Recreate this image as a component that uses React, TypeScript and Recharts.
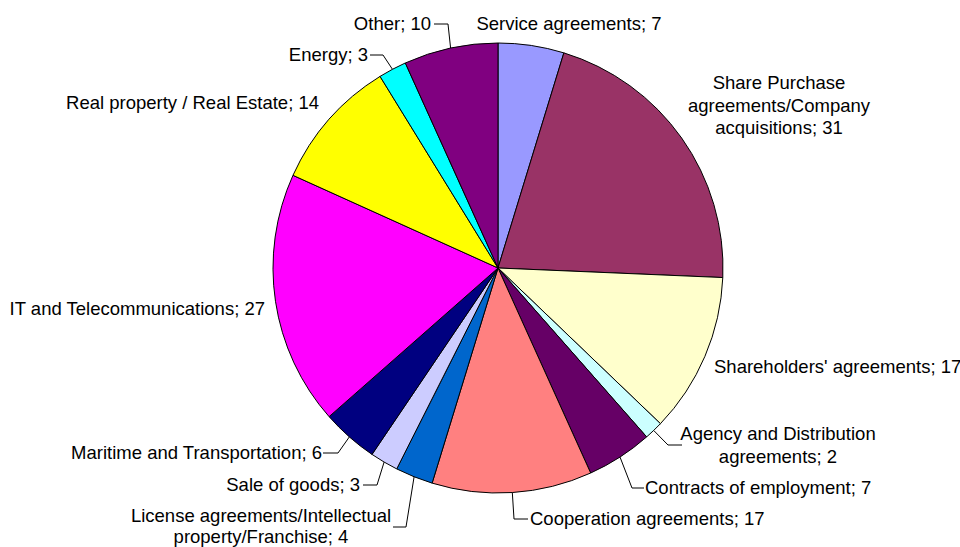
import { PieChart, Pie, Cell } from "recharts"

const CATEGORIES = [
  "Service agreements",
  "Share Purchase agreements/Company acquisitions",
  "Shareholders' agreements",
  "Agency and Distribution agreements",
  "Contracts of employment",
  "Cooperation agreements",
  "License agreements/Intellectual property/Franchise",
  "Sale of goods",
  "Maritime and Transportation",
  "IT and Telecommunications",
  "Real property / Real Estate",
  "Energy",
  "Other",
]

const VALUES = [7, 31, 17, 2, 7, 17, 4, 3, 6, 27, 14, 3, 10]

// label text as it wraps in the chart
const LABEL_LINES = [
  ["Service agreements; 7"],
  ["Share Purchase", "agreements/Company", "acquisitions; 31"],
  ["Shareholders' agreements; 17"],
  ["Agency and Distribution", "agreements; 2"],
  ["Contracts of employment; 7"],
  ["Cooperation agreements; 17"],
  ["License agreements/Intellectual", "property/Franchise; 4"],
  ["Sale of goods; 3"],
  ["Maritime and Transportation; 6"],
  ["IT and Telecommunications; 27"],
  ["Real property / Real Estate; 14"],
  ["Energy; 3"],
  ["Other; 10"],
]

const COLORS = [
  "#9999FF", "#993366", "#FFFFCC", "#CCFFFF", "#660066", "#FF8080", "#0066CC",
  "#CCCCFF", "#000080", "#FF00FF", "#FFFF00", "#00FFFF", "#800080",
]

// label placement relative to the pie centre (dx, dy of first line), plus optional elbow leader
type Layout = {
  dx: number
  dy: number
  anchor: "start" | "middle" | "end"
  lh?: number
  leader?: { ex: number; ey: number; hx: number }
}

const LAYOUT: Layout[] = [
  { dx: 71, dy: -244, anchor: "middle" },
  { dx: 281, dy: -185, anchor: "middle" },
  { dx: 216, dy: 99, anchor: "start" },
  { dx: 280, dy: 166, anchor: "middle", leader: { ex: 170, ey: 177, hx: 184 } },
  { dx: 147, dy: 220, anchor: "start", leader: { ex: 134, ey: 220, hx: 146 } },
  { dx: 32, dy: 251, anchor: "start", leader: { ex: 16, ey: 251, hx: 30 } },
  { dx: -237, dy: 248, anchor: "middle", lh: 21, leader: { ex: -92, ey: 259, hx: -105 } },
  { dx: -138, dy: 217, anchor: "end", leader: { ex: -121, ey: 217, hx: -135 } },
  { dx: -176, dy: 185, anchor: "end", leader: { ex: -160, ey: 185, hx: -175 } },
  { dx: -233, dy: 41, anchor: "end" },
  { dx: -179, dy: -165, anchor: "end" },
  { dx: -130, dy: -213, anchor: "end", leader: { ex: -115, ey: -213, hx: -128 } },
  { dx: -67, dy: -244, anchor: "end", leader: { ex: -50, ey: -244, hx: -64 } },
]

const data = CATEGORIES.map((name, i) => ({ name, value: VALUES[i] }))

const RAD = Math.PI / 180
const LINE_HEIGHT = 22.5

function renderLabel(props: any) {
  const { cx, cy, midAngle, outerRadius, index } = props
  const lay = LAYOUT[index]
  const lines = LABEL_LINES[index]
  let leader = null
  if (lay.leader) {
    const sx = cx + outerRadius * Math.cos(-midAngle * RAD)
    const sy = cy + outerRadius * Math.sin(-midAngle * RAD)
    const { ex, ey, hx } = lay.leader
    leader = (
      <path
        d={`M${sx},${sy}L${cx + ex},${cy + ey}L${cx + hx},${cy + ey}`}
        stroke="#000"
        strokeWidth={1}
        fill="none"
      />
    )
  }
  return (
    <g key={`label-${index}`}>
      {leader}
      <text
        x={cx + lay.dx}
        y={cy + lay.dy}
        textAnchor={lay.anchor}
        fill="#000"
        fontSize={18.5}
        fontFamily="'Liberation Sans', Arial, sans-serif"
      >
        {lines.map((ln, i) => (
          <tspan key={i} x={cx + lay.dx} dy={i === 0 ? "0.35em" : lay.lh ?? LINE_HEIGHT}>
            {ln}
          </tspan>
        ))}
      </text>
    </g>
  )
}

export default function App() {
  return (
    <div style={{ position: "absolute", left: 0, top: 0, width: 960, height: 547, background: "#fff" }}>
      <PieChart width={960} height={547} margin={{ top: 0, right: 0, bottom: 0, left: 0 }}>
        <Pie
          data={data}
          dataKey="value"
          nameKey="name"
          cx={498}
          cy={268}
          outerRadius={225}
          startAngle={90}
          endAngle={-270}
          stroke="#000"
          strokeWidth={1}
          label={renderLabel}
          labelLine={false}
          isAnimationActive={false}
        >
          {data.map((entry, index) => (
            <Cell key={`cell-${index}`} fill={COLORS[index % COLORS.length]} />
          ))}
        </Pie>
      </PieChart>
    </div>
  )
}
